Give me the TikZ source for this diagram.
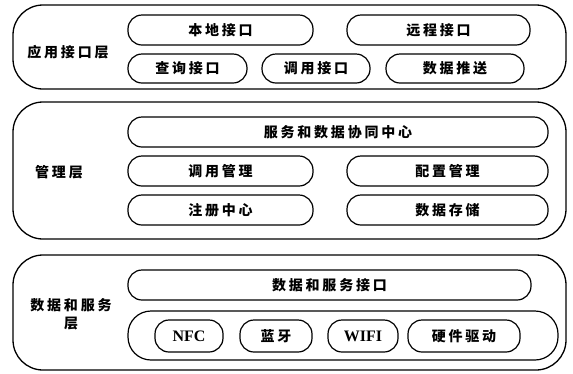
\documentclass[tikz,border=0pt]{standalone}
\usepackage{fontspec}
\newfontfamily\cjk[LetterSpace=20]{Noto Sans CJK SC}
\newfontfamily\lat{Liberation Serif}
\begin{document}
\begin{tikzpicture}[x=1pt,y=-1pt,
  layer/.style={draw,line width=1.3pt,rounded corners=30pt,inner sep=0pt},
  ibox/.style={draw,line width=1.2pt,rounded corners=14pt,inner sep=0pt,minimum height=30pt,
    font=\cjk\bfseries\fontsize{14}{16}\selectfont},
  lbl/.style={font=\cjk\bfseries\fontsize{14}{18}\selectfont,align=center,inner sep=0pt},
  latbox/.style={ibox,font=\lat\bfseries\fontsize{16}{18}\selectfont}]
\useasboundingbox (0,0) rectangle (573,373);
% layer 1
\node[layer,minimum width=553pt,minimum height=84pt] (L1) at (289.5,47) {};
\node[lbl] (l1t) at (68,52) {应用接口层};
\node[ibox,minimum width=185pt] (bd) at (220.5,30) {本地接口};
\node[ibox,minimum width=183pt] (yc) at (438.5,30) {远程接口};
\node[ibox,minimum width=119pt,minimum height=29pt] (cx) at (187.5,68.5) {查询接口};
\node[ibox,minimum width=108pt,minimum height=29pt] (dy) at (316,68.5) {调用接口};
\node[ibox,minimum width=138pt,minimum height=29pt] (ts) at (455,68.5) {数据推送};
% layer 2
\node[layer,minimum width=553pt,minimum height=137pt] (L2) at (289.5,170.5) {};
\node[lbl] (l2t) at (59,172) {管理层};
\node[ibox,minimum width=420pt] (xt) at (338,132) {服务和数据协同中心};
\node[ibox,minimum width=185pt] (dg) at (220.5,171) {调用管理};
\node[ibox,minimum width=201pt] (pz) at (447.5,171) {配置管理};
\node[ibox,minimum width=185pt] (zc) at (220.5,210) {注册中心};
\node[ibox,minimum width=201pt] (cc) at (447.5,210) {数据存储};
% layer 3
\node[layer,minimum width=553pt,minimum height=115pt] (L3) at (289.5,312.5) {};
\node[lbl] (l3t) at (71,314) {数据和服务\\层};
\node[ibox,minimum width=403pt] (jk) at (329.5,285) {数据和服务接口};
\node[ibox,rounded corners=23pt,minimum width=430pt,minimum height=49pt] (hw) at (343,335.5) {};
\node[latbox,minimum width=68pt,minimum height=32pt] (nfc) at (189,336) {NFC};
\node[ibox,minimum width=72pt,minimum height=32pt] (ly) at (276,336) {蓝牙};
\node[latbox,minimum width=70pt,minimum height=32pt] (wifi) at (363,336) {WIFI};
\node[ibox,minimum width=112pt,minimum height=32pt] (qd) at (464,336) {硬件驱动};
\end{tikzpicture}
\end{document}
